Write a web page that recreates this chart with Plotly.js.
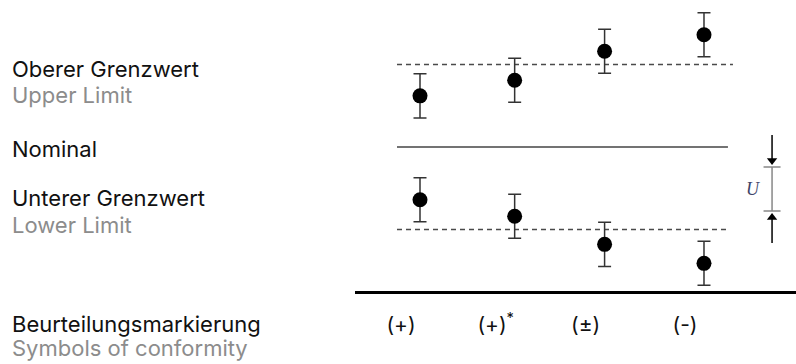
<!DOCTYPE html>
<html><head><meta charset="utf-8">
<script src="https://cdn.plot.ly/plotly-3.0.1.min.js"></script>
<style>html,body{margin:0;padding:0;background:#fff}</style>
</head><body><div id="chart" style="width:796px;height:364px"></div>
<script>
// ---- data ----
const xPos = [1, 2, 2.95, 4];
const symbols = ['(+)', '(+)<sup>*</sup>', '(±)', '(-)'];
const upperValues = [0.62, 0.81, 1.16, 1.36];
const lowerValues = [-0.64, -0.84, -1.18, -1.41];
const uncertainty = 0.267;
const upperLimit = 1;
const nominal = 0;
const lowerLimit = -1;
const lineStart = [0.757, 0.757, 0.757];   // upper, nominal, lower
const lineEnd = [4.306, 4.253, 4.243];
const uX = 4.719;
const uCenter = -0.509;
const leftLabels = [
  {text: 'Oberer Grenzwert', py: 69, gray: false},
  {text: 'Upper Limit', py: 95.5, gray: true},
  {text: 'Nominal', py: 148.5, gray: false},
  {text: 'Unterer Grenzwert', py: 197.5, gray: false},
  {text: 'Lower Limit', py: 224.5, gray: true},
  {text: 'Beurteilungsmarkierung', py: 323.5, gray: false},
  {text: 'Symbols of conformity', py: 347.5, gray: true}
];

// ---- layout geometry ----
const W = 796, H = 364, ML = 355, MB = 73;
const plotW = W - ML, plotH = H - MB;
const PX_PER_UNIT = 82.5;
const FONT = 'Inter, "Liberation Sans", Arial, sans-serif';
const pxX = px => (px - ML) / plotW;
const pxY = py => 1 - py / plotH;
const du = px => px / PX_PER_UNIT;

const errStyle = {type: 'constant', value: uncertainty, color: '#333', thickness: 1.5, width: 6.5};

// arrows pointing at the ends of the U bracket
const ARROW_LEN = 30, GAP = 2, HEAD = 9;
const topTip = uCenter + uncertainty + du(GAP);
const botTip = uCenter - uncertainty - du(GAP);
const headOff = du(HEAD / 2);

const traces = [
  {x: [lineStart[0], lineEnd[0]], y: [upperLimit, upperLimit], mode: 'lines',
   line: {color: '#4a4a4a', width: 1.6, dash: '5px,4px'}, hoverinfo: 'skip'},
  {x: [lineStart[1], lineEnd[1]], y: [nominal, nominal], mode: 'lines',
   line: {color: '#444', width: 1.3}, hoverinfo: 'skip'},
  {x: [lineStart[2], lineEnd[2]], y: [lowerLimit, lowerLimit], mode: 'lines',
   line: {color: '#4a4a4a', width: 1.6, dash: '5px,4px'}, hoverinfo: 'skip'},
  {x: xPos, y: upperValues, mode: 'markers', marker: {color: '#000', size: 15},
   error_y: errStyle},
  {x: xPos, y: lowerValues, mode: 'markers', marker: {color: '#000', size: 15},
   error_y: errStyle},
  {x: [uX], y: [uCenter], mode: 'markers', marker: {color: 'rgba(0,0,0,0)', size: 1},
   error_y: {type: 'constant', value: uncertainty, color: '#888', thickness: 1.5, width: 8.5},
   hoverinfo: 'skip'},
  // top arrow shaft + head
  {x: [uX, uX], y: [topTip + du(ARROW_LEN), topTip + headOff], mode: 'lines',
   line: {color: '#000', width: 1.5}, hoverinfo: 'skip'},
  {x: [uX], y: [topTip + headOff], mode: 'markers',
   marker: {symbol: 'triangle-down', size: HEAD, color: '#000', line: {width: 0}}, hoverinfo: 'skip'},
  // bottom arrow shaft + head
  {x: [uX, uX], y: [botTip - du(ARROW_LEN), botTip - headOff], mode: 'lines',
   line: {color: '#000', width: 1.5}, hoverinfo: 'skip'},
  {x: [uX], y: [botTip - headOff], mode: 'markers',
   marker: {symbol: 'triangle-up', size: HEAD, color: '#000', line: {width: 0}}, hoverinfo: 'skip'}
];

const annotations = leftLabels.map(l => ({
  xref: 'paper', yref: 'paper', x: pxX(10), y: pxY(l.py),
  xanchor: 'left', yanchor: 'middle', showarrow: false, text: l.text,
  font: {family: FONT, size: 22, color: l.gray ? '#8c8c8c' : '#111'}
}));
annotations.push(
  {xref: 'x', yref: 'y', x: uX, y: uCenter, xshift: -19, text: '<i>U</i>', showarrow: false,
   font: {family: '"Liberation Serif", "DejaVu Serif", serif', size: 18, color: '#3d4468'}}
);

const layout = {
  width: W, height: H,
  margin: {l: ML, r: 0, t: 0, b: MB, pad: 0},
  paper_bgcolor: '#fff', plot_bgcolor: '#fff',
  showlegend: false,
  xaxis: {range: [0.3134, 4.972], showgrid: false, zeroline: false,
          showline: true, linecolor: '#000', linewidth: 3,
          tickvals: xPos, ticktext: symbols, ticks: '',
          tickfont: {family: FONT, size: 21, color: '#111'},
          ticklabelshift: -19, ticklabelstandoff: 13, fixedrange: true},
  yaxis: {range: [-(plotH - 147) / PX_PER_UNIT, 147 / PX_PER_UNIT], visible: false, fixedrange: true},
  annotations: annotations
};

Plotly.newPlot('chart', traces, layout, {displayModeBar: false, staticPlot: true});
</script>
</body></html>
